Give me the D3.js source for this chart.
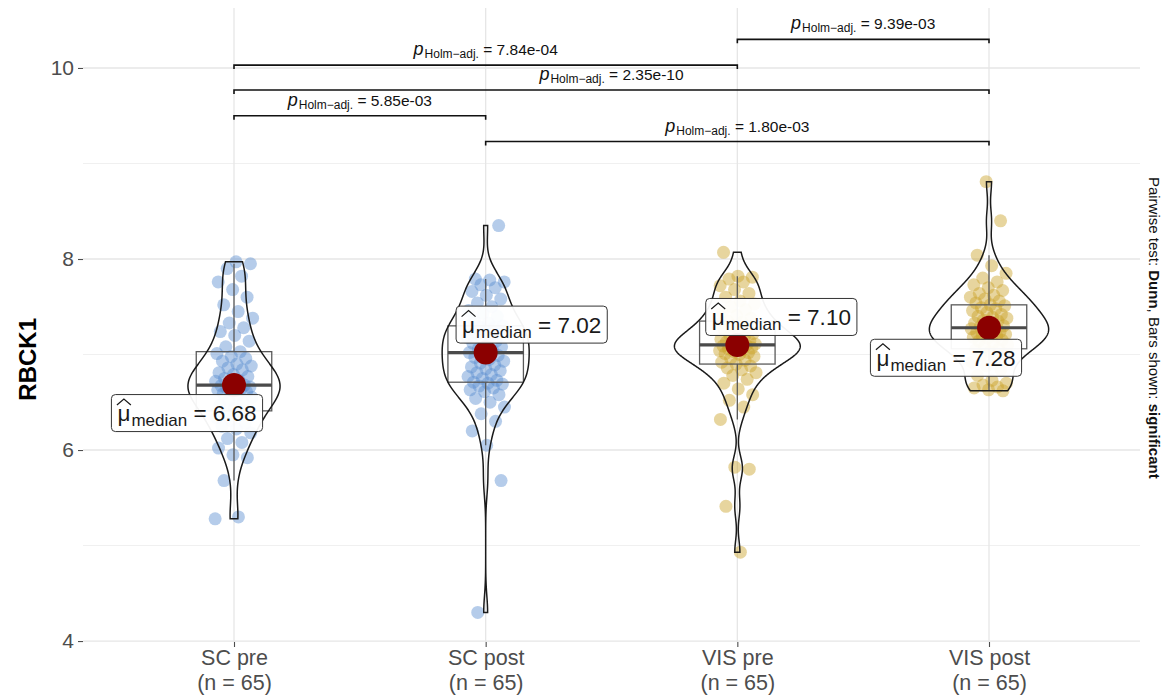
<!DOCTYPE html>
<html>
<head>
<meta charset="utf-8">
<script src="https://cdn.jsdelivr.net/npm/d3@7"></script>
<style>
  html, body { margin: 0; padding: 0; background: #fff; }
  svg { display: block; font-family: "Liberation Sans", Arial, Helvetica, sans-serif; }
</style>
</head>
<body>
<svg id="chart" width="1167" height="700"></svg>
<script>
// ---- data -------------------------------------------------------------
const groups = ["SC pre", "SC post", "VIS pre", "VIS post"];
const groupN = [65, 65, 65, 65];

const scPre = [5.28, 5.30, 5.68, 5.92, 5.95, 6.02, 6.08, 6.12, 6.18, 6.22, 6.25, 6.28, 6.31, 6.34, 6.37, 6.39,
  6.41, 6.44, 6.47, 6.50, 6.52, 6.55, 6.57, 6.59, 6.61, 6.62, 6.63, 6.64, 6.65, 6.66, 6.67, 6.675,
  6.68, 6.70, 6.72, 6.73, 6.75, 6.77, 6.79, 6.81, 6.84, 6.86, 6.88, 6.90, 6.93, 6.96, 6.98, 7.01,
  7.03, 7.08, 7.14, 7.20, 7.24, 7.28, 7.33, 7.38, 7.45, 7.52, 7.60, 7.68, 7.76, 7.82, 7.90, 7.95, 7.97];

const scPost = [4.30, 5.68, 6.05, 6.20, 6.30, 6.38, 6.45, 6.50, 6.54, 6.58, 6.61, 6.63, 6.65, 6.67, 6.69, 6.70,
  6.71, 6.73, 6.75, 6.77, 6.79, 6.81, 6.83, 6.85, 6.87, 6.89, 6.91, 6.93, 6.95, 6.97, 6.99, 7.01,
  7.02, 7.04, 7.06, 7.08, 7.10, 7.12, 7.14, 7.16, 7.18, 7.20, 7.22, 7.24, 7.25, 7.26, 7.28, 7.29,
  7.30, 7.33, 7.36, 7.40, 7.43, 7.46, 7.50, 7.54, 7.58, 7.62, 7.66, 7.70, 7.73, 7.76, 7.78, 7.79, 8.35];

const visPre = [4.93, 5.41, 5.80, 5.82, 6.32, 6.45, 6.52, 6.58, 6.64, 6.70, 6.74, 6.78, 6.81, 6.84, 6.86, 6.88,
  6.90, 6.92, 6.94, 6.96, 6.98, 7.00, 7.01, 7.02, 7.03, 7.04, 7.05, 7.06, 7.07, 7.08, 7.09, 7.095,
  7.10, 7.11, 7.12, 7.13, 7.14, 7.15, 7.16, 7.18, 7.20, 7.22, 7.24, 7.26, 7.28, 7.30, 7.32, 7.34,
  7.35, 7.38, 7.41, 7.44, 7.47, 7.50, 7.53, 7.56, 7.60, 7.64, 7.68, 7.72, 7.76, 7.79, 7.81, 7.82, 8.07];

const visPost = [6.62, 6.63, 6.65, 6.66, 6.68, 6.70, 6.73, 6.78, 6.84, 6.88, 6.92, 6.96, 6.99, 7.01, 7.03, 7.05,
  7.06, 7.08, 7.10, 7.12, 7.14, 7.15, 7.17, 7.18, 7.19, 7.20, 7.21, 7.22, 7.23, 7.24, 7.25, 7.27,
  7.28, 7.29, 7.30, 7.32, 7.33, 7.35, 7.36, 7.38, 7.39, 7.40, 7.42, 7.44, 7.46, 7.48, 7.49, 7.51,
  7.52, 7.54, 7.56, 7.58, 7.60, 7.62, 7.64, 7.67, 7.70, 7.73, 7.76, 7.80, 7.85, 7.93, 8.04, 8.40, 8.81];

const groupValues = [scPre, scPost, visPre, visPost];
const medianLabels = [6.68, 7.02, 7.10, 7.28];
const groupColors = ["#5b8fd0", "#5b8fd0", "#c9a227", "#c9a227"];

const yTicks = [4, 6, 8, 10];
const yMinor = [5, 7, 9];

// pairwise comparisons (Holm-adjusted Dunn test)
const pairs = [[0, 2], [2, 3], [0, 3], [0, 1], [1, 3]];
const pValues = ["7.84e-04", "9.39e-03", "2.35e-10", "5.85e-03", "1.80e-03"];
const barLevels = [10.03, 10.30, 9.77, 9.50, 9.23];

// label placement relative to each median point (pixels)
const labelOffsets = [[-47, 28], [46, -28], [44, -28], [-43, 30]];

// ---- layout -----------------------------------------------------------
const svg = d3.select("#chart");
const panel = { left: 83, right: 1140, top: 8, bottom: 642 };

const x = d3.scalePoint().domain(groups).range([panel.left, panel.right]).padding(0.6);
const step = x.step();
const y = d3.scaleLinear().domain([3.99, 10.628]).range([panel.bottom, panel.top]);

// ---- grid -------------------------------------------------------------
const grid = svg.append("g");
grid.selectAll("line.minor").data(yMinor).join("line")
  .attr("x1", panel.left).attr("x2", panel.right)
  .attr("y1", d => y(d)).attr("y2", d => y(d))
  .attr("stroke", "#f0f0f0").attr("stroke-width", 1.1);
grid.selectAll("line.major").data(yTicks).join("line")
  .attr("x1", panel.left).attr("x2", panel.right)
  .attr("y1", d => y(d)).attr("y2", d => y(d))
  .attr("stroke", "#e6e6e6").attr("stroke-width", 1.3);
grid.selectAll("line.vert").data(groups).join("line")
  .attr("x1", d => x(d)).attr("x2", d => x(d))
  .attr("y1", panel.top).attr("y2", panel.bottom)
  .attr("stroke", "#e6e6e6").attr("stroke-width", 1.3);

// ---- axes -------------------------------------------------------------
const yAxis = svg.append("g").attr("transform", `translate(${panel.left},0)`)
  .call(d3.axisLeft(y).tickValues(yTicks).tickSize(5).tickPadding(4).tickFormat(d3.format("d")));
yAxis.select(".domain").remove();
yAxis.selectAll(".tick line").attr("stroke", "#4d4d4d").attr("stroke-width", 1.1);
yAxis.selectAll(".tick text").attr("fill", "#4d4d4d").style("font-size", "21px")
  .style("font-family", "'Liberation Sans', Arial, sans-serif");

const xAxis = svg.append("g").attr("transform", `translate(0,${panel.bottom})`)
  .call(d3.axisBottom(x).tickSize(5).tickPadding(4).tickFormat(""));
xAxis.select(".domain").remove();
xAxis.selectAll(".tick line").attr("stroke", "#4d4d4d").attr("stroke-width", 1.1);
const xl = xAxis.selectAll(".tick text")
  .attr("fill", "#4d4d4d").style("font-size", "21.5px")
  .style("font-family", "'Liberation Sans', Arial, sans-serif");
xl.each(function (d, i) {
  const t = d3.select(this).text(null);
  t.append("tspan").attr("x", 0).attr("dy", "0.66em").text(d);
  t.append("tspan").attr("x", 0).attr("dy", "1.17em").text(`(n = ${groupN[i]})`);
});

svg.append("text")
  .attr("transform", `translate(36,${y(6.95)}) rotate(-90)`)
  .attr("text-anchor", "middle")
  .style("font-size", "24px").style("font-weight", "bold").attr("fill", "#000")
  .text("RBCK1");

// ---- statistics helpers -----------------------------------------------
function bwNrd0(v) {
  const sd = d3.deviation(v);
  const iqr = d3.quantile(v, 0.75) - d3.quantile(v, 0.25);
  const lo = Math.min(sd, iqr / 1.34);
  return 0.9 * lo * Math.pow(v.length, -0.2);
}

function kde(v, n = 512) {
  const bw = bwNrd0(v);
  const lo = d3.min(v), hi = d3.max(v);
  const out = [];
  for (let k = 0; k < n; k++) {
    const t = lo + (hi - lo) * k / (n - 1);
    let s = 0;
    for (const xi of v) { const u = (t - xi) / bw; s += Math.exp(-0.5 * u * u); }
    out.push([t, s / (v.length * bw * Math.sqrt(2 * Math.PI))]);
  }
  return out;
}

const densities = groupValues.map(v => kde(v.slice().sort(d3.ascending)));
const maxDens = d3.max(densities, d => d3.max(d, p => p[1]));
const halfWidthMax = 0.5 * step / 2;

// ---- jittered points --------------------------------------------------
const pts = svg.append("g");
groupValues.forEach((vals, g) => {
  const cx = x(groups[g]);
  pts.selectAll(null).data(vals).join("circle")
    .attr("cx", (d, i) => cx + (((i * 0.6180339887 + g * 0.29) % 1) - 0.5) * 0.15 * step)
    .attr("cy", d => y(d))
    .attr("r", 6.5)
    .attr("fill", groupColors[g])
    .attr("fill-opacity", 0.45);
});

// ---- boxplots ---------------------------------------------------------
const boxes = svg.append("g");
groupValues.forEach((vals, g) => {
  const s = vals.slice().sort(d3.ascending);
  const q1 = d3.quantileSorted(s, 0.25), q2 = d3.quantileSorted(s, 0.5), q3 = d3.quantileSorted(s, 0.75);
  const iqr = q3 - q1;
  const lowW = d3.min(s.filter(v => v >= q1 - 1.5 * iqr));
  const highW = d3.max(s.filter(v => v <= q3 + 1.5 * iqr));
  const cx = x(groups[g]);
  const bw = 0.3 * step;
  const gg = boxes.append("g").attr("stroke", "#5a5a5a").attr("fill", "none");
  gg.append("line").attr("x1", cx).attr("x2", cx).attr("y1", y(q3)).attr("y2", y(highW)).attr("stroke-width", 1.3);
  gg.append("line").attr("x1", cx).attr("x2", cx).attr("y1", y(q1)).attr("y2", y(lowW)).attr("stroke-width", 1.3);
  gg.append("rect").attr("x", cx - bw / 2).attr("width", bw)
    .attr("y", y(q3)).attr("height", y(q1) - y(q3)).attr("stroke-width", 1.3);
  gg.append("line").attr("x1", cx - bw / 2).attr("x2", cx + bw / 2)
    .attr("y1", y(q2)).attr("y2", y(q2)).attr("stroke-width", 3.2).attr("stroke", "#4a4a4a");
});

// ---- violins ----------------------------------------------------------
const violins = svg.append("g");
densities.forEach((dens, g) => {
  const cx = x(groups[g]);
  const area = d3.area()
    .y(p => y(p[0]))
    .x0(p => cx - p[1] / maxDens * halfWidthMax)
    .x1(p => cx + p[1] / maxDens * halfWidthMax)
    .curve(d3.curveLinear);
  violins.append("path").datum(dens).attr("d", area)
    .attr("fill", "none").attr("stroke", "#1a1a1a").attr("stroke-width", 1.5);
});

// ---- median points and labels -----------------------------------------
const med = svg.append("g");
medianLabels.forEach((m, g) => {
  med.append("circle").attr("cx", x(groups[g])).attr("cy", y(m)).attr("r", 12).attr("fill", "#8b0000");
});

const labels = svg.append("g");
medianLabels.forEach((m, g) => {
  const cx = x(groups[g]) + labelOffsets[g][0];
  const cy = y(m) + labelOffsets[g][1];
  const lg = labels.append("g");
  const rect = lg.append("rect");
  const t = lg.append("text").attr("fill", "#1a1a1a").style("font-size", "22.5px");
  t.append("tspan").text("\u03bc");
  t.append("tspan").style("font-size", "17px").attr("dy", 5).attr("dx", 1).text("median");
  t.append("tspan").attr("dy", -5).text(" = " + m.toFixed(2));
  const bb = t.node().getBBox();
  const tx = cx - bb.width / 2, ty = cy + 8;
  t.attr("x", tx).attr("y", ty);
  const muW = t.node().getSubStringLength(0, 1);
  // circumflex over the mu
  lg.append("path")
    .attr("d", `M${tx - 0.5},${ty - 16} L${tx + muW / 2},${ty - 22} L${tx + muW + 0.5},${ty - 16}`)
    .attr("fill", "none").attr("stroke", "#1a1a1a").attr("stroke-width", 1.2);
  const padX = 6, h = 37;
  rect.attr("x", tx - padX).attr("y", cy - h / 2)
    .attr("width", bb.width + 2 * padX).attr("height", h)
    .attr("rx", 4).attr("fill", "#fff").attr("fill-opacity", 0.95)
    .attr("stroke", "#333").attr("stroke-width", 1);
});

// ---- significance bars ------------------------------------------------
const sig = svg.append("g");
pairs.forEach(([a, b], k) => {
  const x1 = x(groups[a]), x2 = x(groups[b]), yy = y(barLevels[k]);
  sig.append("path")
    .attr("d", `M${x1},${yy + 4} V${yy} H${x2} V${yy + 4}`)
    .attr("fill", "none").attr("stroke", "#111").attr("stroke-width", 1.6);
  const t = sig.append("text").attr("x", (x1 + x2) / 2).attr("y", yy - 10)
    .attr("text-anchor", "middle").attr("fill", "#111").style("font-size", "15.5px");
  t.append("tspan").style("font-style", "italic").style("font-size", "18px").text("p");
  t.append("tspan").style("font-size", "12px").attr("dy", 3).attr("dx", 1).text("Holm\u2212adj.");
  t.append("tspan").attr("dy", -3).text(" = " + pValues[k]);
});

// ---- caption ----------------------------------------------------------
const cap = svg.append("text")
  .attr("transform", `translate(1149,${y(7.28)}) rotate(90)`)
  .attr("text-anchor", "middle").attr("fill", "#111").style("font-size", "15px");
cap.append("tspan").text("Pairwise test: ");
cap.append("tspan").style("font-weight", "bold").text("Dunn");
cap.append("tspan").text(", Bars shown: ");
cap.append("tspan").style("font-weight", "bold").text("significant");
</script>
</body>
</html>
